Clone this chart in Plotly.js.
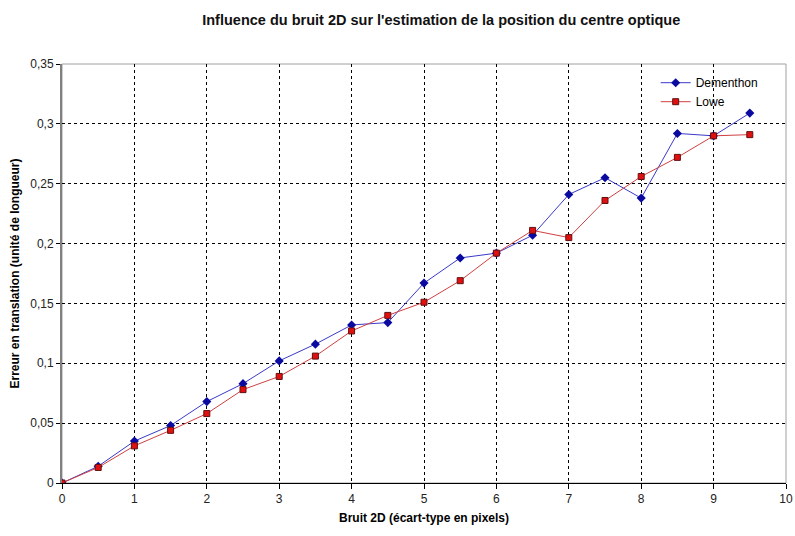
<!DOCTYPE html>
<html><head><meta charset="utf-8">
<script src="https://cdn.plot.ly/plotly-3.0.1.min.js"></script>
<style>body{margin:0;background:#fff}#c{width:795px;height:536px}</style>
</head><body><div id="c"></div>
<script>
const bruit = [0,0.5,1,1.5,2,2.5,3,3.5,4,4.5,5,5.5,6,6.5,7,7.5,8,8.5,9,9.5];
const dementhon = [0,0.014,0.035,0.048,0.068,0.083,0.102,0.116,0.132,0.134,0.167,0.188,0.192,0.207,0.241,0.255,0.238,0.292,0.290,0.309];
const lowe = [0,0.013,0.031,0.044,0.058,0.078,0.089,0.106,0.127,0.140,0.151,0.169,0.192,0.211,0.205,0.236,0.256,0.272,0.290,0.291];

const traces = [
  {x: bruit, y: dementhon, name: 'Dementhon', type: 'scatter', mode: 'lines+markers',
   line: {color: '#3a3ac8', width: 1}, marker: {symbol: 'diamond', size: 7, color: '#0a0aa0'}},
  {x: bruit, y: lowe, name: 'Lowe', type: 'scatter', mode: 'lines+markers',
   line: {color: '#d04040', width: 1}, marker: {symbol: 'square', size: 6, color: '#e01010', line: {color: '#601010', width: 1}}}
];

const layout = {
  width: 795, height: 536,
  margin: {l: 62, r: 9, t: 64, b: 53},
  paper_bgcolor: '#fff', plot_bgcolor: '#fff',
  separators: ', ',
  font: {family: 'Liberation Sans, Arial, sans-serif', size: 12, color: '#000'},
  title: {text: "<b>Influence du bruit 2D sur l'estimation de la position du centre optique</b>",
          font: {size: 14.5, color: '#111'}, x: 0.555, xanchor: 'center', y: 0.963, yanchor: 'middle'},
  xaxis: {range: [0, 10], dtick: 1, tick0: 0, showgrid: true, gridcolor: '#000', griddash: 'dot', gridwidth: 1,
          showline: true, linecolor: '#000', linewidth: 1, ticks: 'outside', ticklen: 5, tickcolor: '#000',
          zeroline: false, tickfont: {size: 12, color: '#222'}, ticklabeloverflow: 'allow',
          title: {text: '<b>Bruit 2D (écart-type en pixels)</b>', font: {size: 12}, standoff: 8}},
  yaxis: {range: [0, 0.35], dtick: 0.05, tick0: 0, showgrid: true, gridcolor: '#000', griddash: 'dot', gridwidth: 1,
          showline: true, linecolor: '#808080', linewidth: 2, mirror: false, ticks: 'outside', ticklen: 4, tickcolor: '#000',
          zeroline: false, tickfont: {size: 12, color: '#222'},
          title: {text: '<b>Erreur en translation (unité de longueur)</b>', font: {size: 12}, standoff: 8}},
  shapes: [{type: 'rect', xref: 'paper', yref: 'paper', x0: 0, x1: 1, y0: 0, y1: 1,
            line: {color: '#a0a0a0', width: 1}, layer: 'below'}],
  legend: {x: 0.82, y: 0.99, xanchor: 'left', yanchor: 'top', bgcolor: 'rgba(255,255,255,0)',
           font: {size: 12}, tracegroupgap: 0, itemwidth: 30},
  showlegend: true
};
Plotly.newPlot('c', traces, layout, {displayModeBar: false, staticPlot: true});
</script></body></html>
